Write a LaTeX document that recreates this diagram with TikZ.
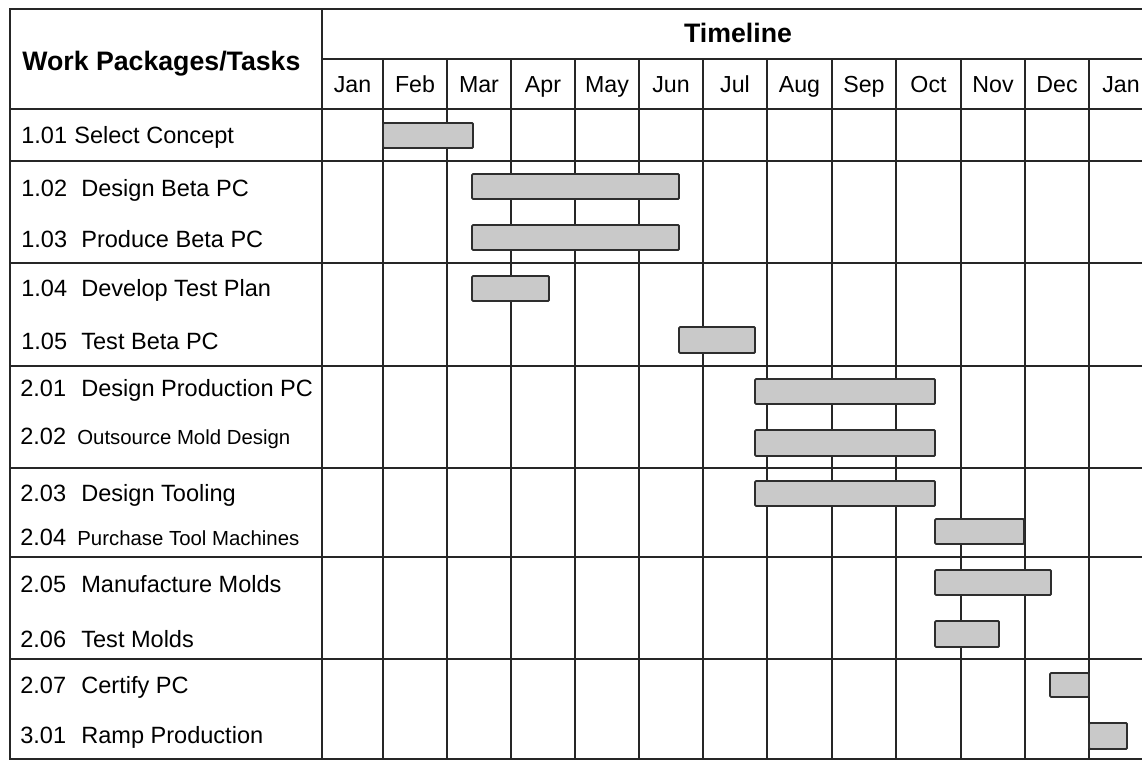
\documentclass[tikz,border=0pt]{standalone}
\usepackage{fontspec}
\setmainfont{Liberation Sans}
\usetikzlibrary{positioning}

\begin{document}
\begin{tikzpicture}[x=0.02cm, y=-0.02cm]
\tikzstyle{grid}=[draw=black!85, line width=1.05pt]
\tikzstyle{band}=[draw=black!85, line width=1.4pt]
\tikzstyle{bar}=[draw=black!82, fill=black!21, line width=1.05pt, rounded corners=0.6pt]
\tikzstyle{head}=[anchor=base west, inner sep=0pt, font=\bfseries\fontsize{15.2}{18}\selectfont]
\tikzstyle{month}=[anchor=base, inner sep=0pt, font=\fontsize{13.2}{16}\selectfont]
\tikzstyle{task}=[anchor=base west, inner sep=0pt, font=\fontsize{13.4}{16}\selectfont]
\tikzstyle{small}=[task, font=\fontsize{11.6}{14}\selectfont]

\useasboundingbox (0,0) rectangle (1142,760);

% grid
\foreach \x in {383,447,511,575,639,703,767,832,896,961,1025,1089}
  \draw[grid] (\x,59) -- (\x,759);
\draw[grid] (322,59) -- (1142,59);
\draw[band] (10,109) -- (1142,109);
\foreach \y in {161,263,366,468,557,659}
  \draw[band] (10,\y) -- (1142,\y);
\draw[band] (322,9) -- (322,759);
\draw[band] (1142,9) -- (10,9) -- (10,759) -- (1142,759);

% bars
\draw[bar] (383,123) rectangle (473,148); % 1.01
\draw[bar] (472,174) rectangle (679,199); % 1.02
\draw[bar] (472,225) rectangle (679,250); % 1.03
\draw[bar] (472,276) rectangle (549,301); % 1.04
\draw[bar] (679,327) rectangle (755,353); % 1.05
\draw[bar] (755,379) rectangle (935,404); % 2.01
\draw[bar] (755,430) rectangle (935,456); % 2.02
\draw[bar] (755,481) rectangle (935,506); % 2.03
\draw[bar] (935,519) rectangle (1024,544); % 2.04
\draw[bar] (935,570) rectangle (1051,595); % 2.05
\draw[bar] (935,621) rectangle (999,647); % 2.06
\draw[bar] (1050,673) rectangle (1089,697); % 2.07
\draw[bar] (1089,723) rectangle (1127,749); % 3.01

% header
\node[head] (wp) at (22,71) {Work Packages/Tasks};
\node[head, anchor=base] (tl) at (738,43) {Timeline};
\foreach \m/\c [count=\i] in {Jan/352.5,Feb/415,Mar/479,Apr/543,May/607,Jun/671,Jul/735,Aug/799.5,Sep/864,Oct/928.5,Nov/993,Dec/1057,Jan/1121}
  \node[month] (m\i) at (\c,93) {\m};

% tasks
\node[task] (n101) at (21,144) {1.01};
\node[task] (t101) at (74,144) {Select Concept};
\node[task] (n102) at (21,196) {1.02};
\node[task] (t102) at (81,196) {Design Beta PC};
\node[task] (n103) at (21,247) {1.03};
\node[task] (t103) at (81,247) {Produce Beta PC};
\node[task] (n104) at (21,296) {1.04};
\node[task] (t104) at (81,296) {Develop Test Plan};
\node[task] (n105) at (21,349) {1.05};
\node[task] (t105) at (81,349) {Test Beta PC};
\node[task] (n201) at (20,396) {2.01};
\node[task] (t201) at (81,396) {Design Production PC};
\node[task] (n202) at (20,444) {2.02};
\node[small] (t202) at (77,444) {Outsource Mold Design};
\node[task] (n203) at (20,501) {2.03};
\node[task] (t203) at (81,501) {Design Tooling};
\node[task] (n204) at (20,545) {2.04};
\node[small] (t204) at (77,545) {Purchase Tool Machines};
\node[task] (n205) at (20,592) {2.05};
\node[task] (t205) at (81,592) {Manufacture Molds};
\node[task] (n206) at (20,647) {2.06};
\node[task] (t206) at (81,647) {Test Molds};
\node[task] (n207) at (20,693) {2.07};
\node[task] (t207) at (81,693) {Certify PC};
\node[task] (n301) at (20,743) {3.01};
\node[task] (t301) at (81,743) {Ramp Production};
\end{tikzpicture}
\end{document}
